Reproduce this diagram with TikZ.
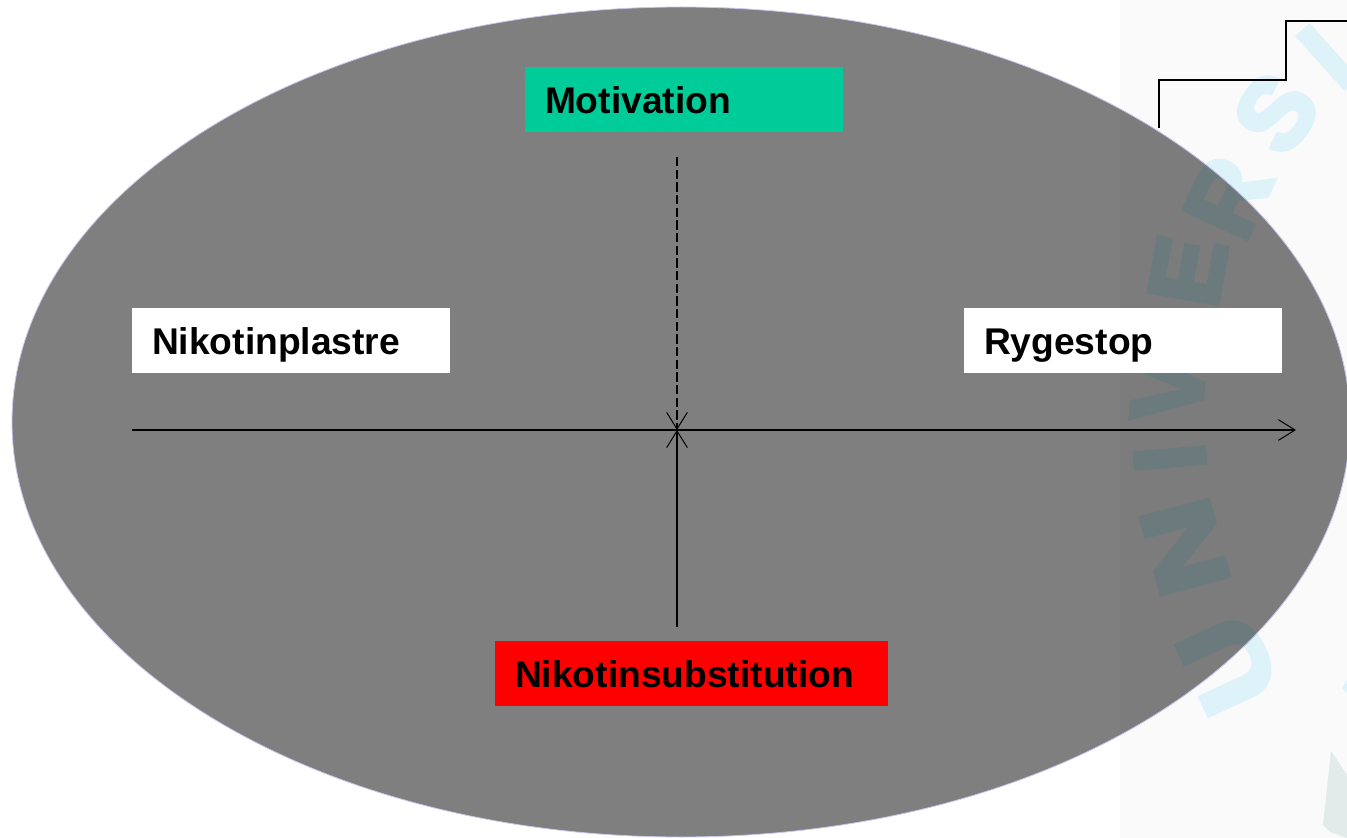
\documentclass[tikz,border=0pt]{standalone}
\usepackage{fontspec}
\setmainfont{Liberation Sans}
\newfontfamily\wmfont[FakeBold=5]{Liberation Sans Bold}
\usetikzlibrary{arrows.meta}
\tikzset{
  px/.style={x=0.75pt,y=-0.75pt},
  label box/.style={anchor=north west,inner sep=0pt,outer sep=0pt,text height=35pt,text depth=13.75pt,text=black,font=\fontsize{27.9pt}{32pt}\selectfont\bfseries,align=left},
  wm/.style={font=\fontsize{75pt}{75pt}\wmfont,inner sep=0pt},
  conn/.style={line width=0.9pt,draw=black,-{Straight Barb[length=12.5pt,width=15.5pt,line width=0.75pt]}},
}
\definecolor{wmblue}{HTML}{DDF2F9}
\definecolor{wmdark}{HTML}{6B7A7D}
\definecolor{band}{HTML}{FAFAFB}
\definecolor{banddark}{HTML}{7C7C7C}
\definecolor{disc}{HTML}{7F7F7F}
\definecolor{rim}{HTML}{C8C8F0}
\definecolor{mgreen}{HTML}{00CC99}
\definecolor{wmgrey}{HTML}{E2EAEA}
\newcommand\wmletters[2]{%
\node[wm,text=#2,rotate=115,yscale=1.1,xscale=1.25] (#1U) at (1228,664) {U};
\node[wm,text=#2,rotate=105,xscale=1.3] (#1N) at (1185,547) {N};
\node[wm,text=#2,rotate=95]  (#1I) at (1170,458) {I};
\node[wm,text=#2,rotate=85]  (#1V) at (1168,388) {V};
\node[wm,text=#2,rotate=80]  (#1E) at (1188,271) {E};
\node[wm,text=#2,rotate=65]  (#1R) at (1228,197) {R};
\node[wm,text=#2,rotate=55]  (#1S) at (1276,113) {S};
\node[wm,text=#2,rotate=42]  (#1J) at (1327,57) {I};
}
\begin{document}
\begin{tikzpicture}[px]
\useasboundingbox (0,0) rectangle (1347,838);
\clip (0,0) rectangle (1347,838);
\fill[white] (0,0) rectangle (1347,838);
\fill[band] (1120,0) rectangle (1347,838);
\wmletters{a}{wmblue}
\fill[wmgrey] (1331,751) -- (1347,775) -- (1347,838) -- (1330,832) -- (1323,825) -- cycle;
\fill[wmblue] (1347,680) -- (1347,693) -- (1342,688) -- cycle;
\coordinate (p0) at (1159,128);
\coordinate (p1) at (1159,80);
\coordinate (p2) at (1286,80);
\coordinate (p3) at (1286,21);
\coordinate (p4) at (1347,21);
\draw[line width=0.8pt,black] (p0) -- (p1) -- (p2) -- (p3) -- (p4);
\fill[disc] (681,422) ellipse [x radius=669,y radius=415];
\begin{scope}
\clip (681,422) ellipse [x radius=669,y radius=415];
\fill[banddark] (1120,0) rectangle (1347,838);
\wmletters{b}{wmdark}
\end{scope}
\draw[rim,line width=0.6pt] (681,422) ellipse [x radius=669,y radius=415];
\node[label box,fill=mgreen,text width=238.5pt] (mot) at (525,67) {\hspace*{15pt}Motivation};
\node[label box,fill=white,text width=238.5pt] (nik) at (132,308) {\hspace*{15pt}Nikotinplastre};
\node[label box,fill=white,text width=238.5pt] (ryg) at (964,308) {\hspace*{15pt}Rygestop};
\node[label box,fill=red,text width=294.75pt] (sub) at (495,641) {\hspace*{15pt}Nikotinsubstitution};
\coordinate (hs) at (132,430);
\coordinate (he) at (1296,430);
\coordinate (ds) at (677,157);
\coordinate (us) at (677,627);
\coordinate (cross) at (677,430);
\draw[conn] (hs) -- (he);
\draw[conn,dash pattern=on 7pt off 2.5pt] (ds) -- (cross);
\draw[conn] (us) -- (cross);
\end{tikzpicture}
\end{document}
